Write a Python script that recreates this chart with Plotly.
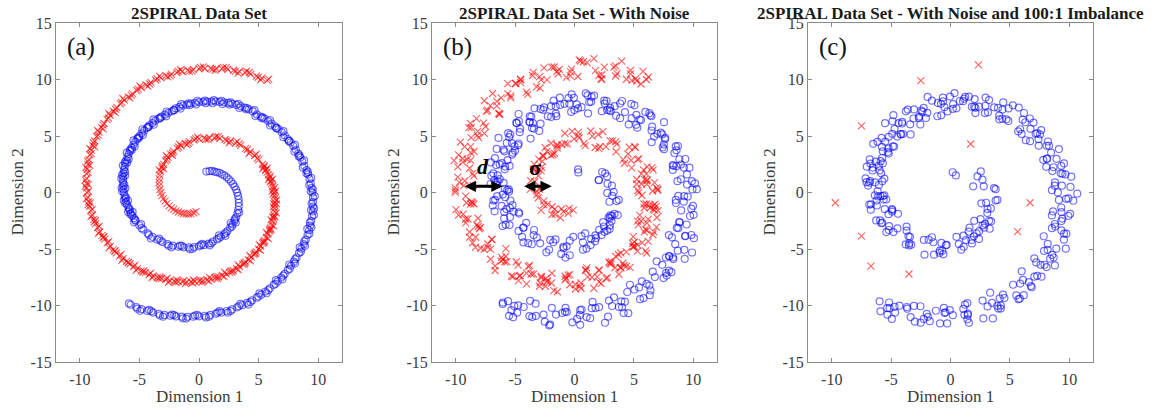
import plotly.graph_objects as go

W, H = 1165, 413
Y_OFF = 8          # rows above the drawn figure on the page
Y_SCALE = 0.961    # vertical page rows per figure pixel
SERIF = "Liberation Serif, Times New Roman, serif"

# ---------------- data (x, y) ----------------
# (a) clean two-spiral set
blue_a = [
    (0.62, 1.86), (0.88, 1.89), (1.09, 1.92), (1.30, 1.85), (1.50, 1.79), (1.72, 1.75), (1.93, 1.62), (2.13, 1.52), (2.33, 1.35), (2.51, 1.17),
    (2.69, 0.98), (2.85, 0.76), (2.98, 0.53), (3.11, 0.27), (3.20, 0.00), (3.28, -0.29), (3.33, -0.59), (3.34, -0.90), (3.34, -1.21), (3.29, -1.54),
    (3.22, -1.86), (3.12, -2.19), (2.98, -2.50), (2.81, -2.81), (2.61, -3.11), (2.38, -3.40), (2.12, -3.67), (1.83, -3.91), (1.51, -4.14), (1.16, -4.34),
    (0.80, -4.51), (0.41, -4.65), (0.00, -4.75), (-0.42, -4.82), (-0.86, -4.85), (-1.30, -4.84), (-1.74, -4.79), (-2.19, -4.69), (-2.64, -4.56), (-3.07, -4.38),
    (-3.50, -4.17), (-3.91, -3.91), (-4.30, -3.61), (-4.67, -3.27), (-5.01, -2.89),
    (-5.32, -2.48), (-5.46, -2.26), (-5.60, -2.04), (-5.72, -1.81), (-5.83, -1.56), (-5.93, -1.31), (-6.04, -1.06), (-6.11, -0.81), (-6.19, -0.54), (-6.24, -0.28),
    (-6.30, 0.00), (-6.33, 0.28), (-6.37, 0.56), (-6.37, 0.84), (-6.37, 1.12), (-6.35, 1.41), (-6.34, 1.70), (-6.30, 1.99), (-6.24, 2.27), (-6.17, 2.56),
    (-6.10, 2.85), (-6.00, 3.13), (-5.91, 3.41), (-5.78, 3.68), (-5.65, 3.96), (-5.50, 4.23), (-5.35, 4.49), (-5.18, 4.75), (-5.00, 5.00), (-4.81, 5.24),
    (-4.60, 5.48), (-4.38, 5.71), (-4.16, 5.94), (-3.91, 6.15), (-3.67, 6.35), (-3.40, 6.54), (-3.14, 6.72), (-2.86, 6.89), (-2.57, 7.05), (-2.27, 7.19),
    (-1.96, 7.45), (-1.65, 7.58), (-1.33, 7.70), (-1.01, 7.80), (-0.68, 7.88), (-0.34, 7.94), (0.00, 8.00), (0.35, 8.03), (0.69, 8.05), (1.04, 8.05),
    (1.40, 8.05), (1.74, 8.02), (2.10, 7.98), (2.45, 7.93), (2.80, 7.85), (3.15, 7.75), (3.50, 7.64), (3.84, 7.51), (4.18, 7.36), (4.51, 7.19),
    (4.85, 6.92), (5.17, 6.73), (5.49, 6.54), (5.80, 6.32), (6.09, 6.09), (6.38, 5.85), (6.67, 5.60), (6.94, 5.33), (7.20, 5.05), (7.44, 4.74),
    (7.69, 4.44), (7.91, 4.12), (8.13, 3.79), (8.33, 3.45), (8.51, 3.10), (8.67, 2.74), (8.83, 2.37), (9.03, 1.98), (9.16, 1.60), (9.27, 1.21),
    (9.37, 0.81), (9.45, 0.41), (9.52, 0.00), (9.56, -0.42), (9.57, -0.82), (9.56, -1.25), (9.55, -1.67), (9.49, -2.08), (9.42, -2.50), (9.33, -2.92),
    (9.24, -3.33), (9.11, -3.75), (8.96, -4.16), (8.79, -4.56), (8.60, -4.96), (8.39, -5.34), (8.19, -5.74), (7.96, -6.11), (7.72, -6.48), (7.46, -6.84),
    (7.19, -7.19), (6.90, -7.52), (6.60, -7.86), (6.27, -8.17), (5.94, -8.47), (5.57, -8.75), (5.22, -9.03), (4.84, -9.29), (4.44, -9.52), (4.04, -9.75),
    (3.63, -9.96), (3.20, -10.15), (2.77, -10.33), (2.32, -10.47), (1.87, -10.61), (1.42, -10.71), (0.95, -10.82), (0.48, -10.89), (0.00, -10.94), (-0.48, -10.97),
    (-0.96, -10.99), (-1.45, -10.97), (-1.93, -10.95), (-2.41, -10.89), (-2.90, -10.82), (-3.38, -10.72), (-3.86, -10.61), (-4.34, -10.47), (-4.81, -10.30), (-5.27, -10.12),
    (-5.73, -9.92),
    (3.37, -1.76), (3.00, -2.34), (3.08, -2.65), (2.66, -2.69), (2.76, -3.01), (2.26, -3.55), (2.22, -3.82), (1.68, -3.79), (1.66, -4.04), (1.04, -4.49),
    (0.90, -4.66), (0.26, -4.53), (0.15, -4.65), (-0.54, -4.97), (-0.76, -5.00), (-1.45, -4.72), (-1.59, -4.69), (-2.31, -4.84), (-2.54, -4.71), (-3.22, -4.26),
    (-3.35, -4.07), (-4.03, -4.06), (-4.20, -3.76), (-4.82, -3.15), (-4.86, -2.79),
    (-5.44, -2.63), (-5.36, -2.41), (-5.75, -1.92), (-5.57, -1.71), (-5.95, -1.71), (-5.83, -1.46), (-6.19, -0.94), (-5.96, -0.71), (-6.31, -0.69), (-6.14, -0.43),
    (-6.45, 0.12), (-6.18, 0.38), (-6.49, 0.41), (-6.27, 0.69), (-6.52, 1.24), (-6.20, 1.51), (-6.46, 1.55), (-6.20, 1.84), (-6.39, 2.39), (-6.02, 2.66),
    (-6.22, 2.70), (-5.90, 2.98), (-6.06, 3.53), (-5.63, 3.78), (-5.77, 3.81), (-5.40, 4.08), (-5.50, 4.61), (-5.03, 4.85), (-5.12, 4.85), (-4.71, 5.09),
    (-4.75, 5.60), (-4.23, 5.81), (-4.28, 5.79), (-3.81, 6.00), (-3.82, 6.47), (-3.25, 6.64), (-3.26, 6.57), (-2.76, 6.74), (-2.72, 7.17), (-2.12, 7.29),
    (-2.08, 7.30), (-1.55, 7.43), (-1.48, 7.82), (-0.86, 7.90), (-0.80, 7.73), (-0.24, 7.79), (-0.15, 8.12), (0.50, 8.13), (0.57, 7.90), (1.14, 7.90),
    (1.25, 8.17), (1.89, 8.12), (1.98, 7.83), (2.55, 7.78), (2.65, 7.97), (3.30, 7.85), (3.38, 7.49), (3.94, 7.36), (4.03, 7.48), (4.66, 7.29),
    (4.73, 6.77), (5.27, 6.58), (5.34, 6.66), (5.95, 6.42), (5.97, 5.94), (6.48, 5.70), (6.52, 5.72), (7.09, 5.43), (7.08, 4.90), (7.54, 4.59),
    (7.54, 4.56), (8.06, 4.22), (8.01, 3.64), (8.43, 3.30), (8.36, 3.22), (8.82, 2.84), (8.71, 2.22), (9.13, 1.83), (9.01, 1.72), (9.42, 1.31),
    (9.25, 0.66), (9.55, 0.26), (9.37, 0.12), (9.71, -0.32), (9.45, -0.97), (9.66, -1.40), (9.40, -1.55), (9.64, -1.98), (9.30, -2.65), (9.43, -3.07),
    (9.09, -3.21), (9.26, -3.65), (8.84, -4.31), (8.89, -4.71), (8.45, -4.84), (8.54, -5.24), (8.07, -5.89), (8.06, -6.26), (7.57, -6.36), (7.61, -6.74),
    (7.07, -7.34), (7.00, -7.67), (6.45, -7.74), (6.42, -8.07), (5.82, -8.62), (5.67, -8.90), (5.07, -8.91), (4.99, -9.19), (4.32, -9.67), (4.14, -9.90),
    (3.48, -9.84), (3.35, -10.05), (2.65, -10.48), (2.42, -10.62), (1.72, -10.49), (1.57, -10.61), (0.83, -10.97), (0.58, -11.04), (-0.15, -10.82), (-0.33, -10.87),
    (-1.08, -11.14), (-1.35, -11.12), (-2.08, -10.83), (-2.26, -10.79), (-3.02, -10.97), (-3.28, -10.87), (-4.01, -10.49), (-4.19, -10.37), (-4.93, -10.45), (-5.17, -10.27),
    (-5.88, -9.80),
]

red_a = [
    (-0.25, -1.68), (-0.45, -1.78),
    (-0.68, -1.88), (-0.88, -1.89), (-1.09, -1.88), (-1.30, -1.85), (-1.50, -1.79), (-1.72, -1.72), (-1.93, -1.62), (-2.13, -1.49), (-2.33, -1.35), (-2.51, -1.17),
    (-2.69, -0.98), (-2.85, -0.76), (-2.98, -0.53), (-3.11, -0.27), (-3.20, 0.00), (-3.28, 0.29), (-3.33, 0.59), (-3.34, 0.90), (-3.34, 1.21), (-3.29, 1.54),
    (-3.22, 1.86), (-3.12, 2.19), (-2.98, 2.50), (-2.81, 2.81), (-2.61, 3.11), (-2.38, 3.40), (-2.12, 3.67), (-1.83, 3.91), (-1.51, 4.14), (-1.16, 4.34),
    (-0.80, 4.51), (-0.41, 4.65), (0.00, 4.75), (0.42, 4.82), (0.86, 4.85), (1.30, 4.84), (1.74, 4.79), (2.19, 4.69), (2.64, 4.56), (3.07, 4.38),
    (3.50, 4.17), (3.91, 3.91), (4.30, 3.61), (4.67, 3.27), (5.01, 2.89),
    (5.32, 2.48), (5.46, 2.26), (5.60, 2.04), (5.72, 1.81), (5.83, 1.56), (5.93, 1.31), (6.04, 1.06), (6.11, 0.81), (6.19, 0.54), (6.24, 0.28),
    (6.30, 0.00), (6.33, -0.28), (6.37, -0.56), (6.37, -0.84), (6.37, -1.12), (6.35, -1.41), (6.34, -1.70), (6.30, -1.99), (6.24, -2.27), (6.17, -2.56),
    (6.10, -2.85), (6.00, -3.13), (5.91, -3.41), (5.78, -3.68), (5.65, -3.96), (5.50, -4.23), (5.35, -4.49), (5.18, -4.75), (5.00, -5.00), (4.81, -5.24),
    (4.60, -5.48), (4.38, -5.71), (4.16, -5.94), (3.91, -6.15), (3.67, -6.35), (3.40, -6.54), (3.14, -6.72), (2.86, -6.89), (2.57, -7.05), (2.27, -7.19),
    (1.96, -7.33), (1.65, -7.45), (1.33, -7.56), (1.01, -7.65), (0.68, -7.73), (0.34, -7.79), (0.00, -7.85), (-0.35, -7.88), (-0.69, -7.90), (-1.04, -7.90),
    (-1.40, -7.90), (-1.74, -7.87), (-2.10, -7.83), (-2.45, -7.78), (-2.80, -7.70), (-3.15, -7.60), (-3.50, -7.50), (-3.84, -7.38), (-4.18, -7.24), (-4.51, -7.08),
    (-4.85, -6.92), (-5.17, -6.73), (-5.49, -6.54), (-5.80, -6.32), (-6.09, -6.09), (-6.38, -5.85), (-6.67, -5.60), (-6.94, -5.33), (-7.20, -5.05), (-7.44, -4.74),
    (-7.69, -4.44), (-7.91, -4.12), (-8.13, -3.79), (-8.33, -3.45), (-8.51, -3.10), (-8.67, -2.74), (-8.83, -2.37), (-8.96, -1.98), (-9.08, -1.60), (-9.18, -1.21),
    (-9.27, -0.81), (-9.34, -0.41), (-9.40, 0.00), (-9.43, 0.42), (-9.44, 0.82), (-9.43, 1.25), (-9.43, 1.67), (-9.38, 2.08), (-9.32, 2.50), (-9.24, 2.92),
    (-9.16, 3.33), (-9.04, 3.75), (-8.91, 4.16), (-8.75, 4.56), (-8.58, 4.96), (-8.39, 5.34), (-8.19, 5.74), (-7.96, 6.11), (-7.72, 6.48), (-7.46, 6.84),
    (-7.19, 7.19), (-6.90, 7.52), (-6.60, 7.86), (-6.27, 8.17), (-5.94, 8.47), (-5.57, 8.75), (-5.22, 9.03), (-4.84, 9.29), (-4.44, 9.52), (-4.04, 9.75),
    (-3.63, 9.96), (-3.20, 10.15), (-2.77, 10.33), (-2.32, 10.47), (-1.87, 10.61), (-1.42, 10.71), (-0.95, 10.82), (-0.48, 10.89), (0.00, 10.94), (0.48, 10.97),
    (0.96, 10.99), (1.45, 10.97), (1.93, 10.95), (2.41, 10.89), (2.90, 10.82), (3.38, 10.72), (3.86, 10.61), (4.34, 10.47), (4.81, 10.30), (5.27, 10.12),
    (5.73, 9.92),
    (-3.34, 2.01), (-2.97, 2.09), (-3.08, 2.35), (-2.69, 2.93), (-2.73, 3.26), (-2.23, 3.30), (-2.22, 3.52), (-1.71, 4.03), (-1.63, 4.29), (-1.01, 4.24),
    (-0.90, 4.36), (-0.29, 4.77), (-0.12, 4.90), (0.57, 4.72), (0.76, 4.70), (1.42, 4.96), (1.62, 4.94), (2.34, 4.59), (2.54, 4.41), (3.19, 4.50),
    (3.38, 4.32), (4.06, 3.81), (4.20, 3.46), (4.79, 3.39), (4.89, 3.04),
    (5.47, 2.38), (5.36, 2.11), (5.72, 2.16), (5.60, 1.96), (5.98, 1.46), (5.83, 1.16), (6.16, 1.18), (5.99, 0.96), (6.34, 0.44), (6.14, 0.13),
    (6.42, 0.12), (6.21, -0.13), (6.52, -0.66), (6.27, -0.99), (6.49, -1.00), (6.23, -1.26), (6.49, -1.80), (6.20, -2.14), (6.36, -2.15), (6.05, -2.41),
    (6.25, -2.95), (5.90, -3.28), (6.03, -3.29), (5.66, -3.53), (5.80, -4.06), (5.40, -4.38), (5.47, -4.37), (5.06, -4.60), (5.15, -5.10), (4.71, -5.39),
    (4.72, -5.36), (4.26, -5.56), (4.31, -6.04), (3.81, -6.30), (3.79, -6.23), (3.28, -6.39), (3.29, -6.82), (2.76, -7.04), (2.69, -6.93), (2.15, -7.04),
    (2.11, -7.43), (1.55, -7.60), (1.45, -7.44), (0.89, -7.50), (0.83, -7.83), (0.24, -7.94), (0.12, -7.73), (-0.47, -7.73), (-0.54, -8.00), (-1.14, -8.05),
    (-1.28, -7.78), (-1.86, -7.72), (-1.95, -7.93), (-2.55, -7.93), (-2.68, -7.58), (-3.27, -7.45), (-3.35, -7.60), (-3.94, -7.53), (-4.06, -7.12), (-4.63, -6.93),
    (-4.70, -7.02), (-5.27, -6.88), (-5.37, -6.42), (-5.92, -6.17), (-5.94, -6.19), (-6.48, -6.00), (-6.55, -5.48), (-7.06, -5.18), (-7.05, -5.15), (-7.54, -4.89),
    (-7.57, -4.32), (-8.03, -3.97), (-7.98, -3.89), (-8.43, -3.60), (-8.39, -2.98), (-8.79, -2.59), (-8.68, -2.47), (-9.06, -2.13), (-8.96, -1.48), (-9.30, -1.06),
    (-9.12, -0.91), (-9.44, -0.56), (-9.28, 0.12), (-9.55, 0.57), (-9.29, 0.72), (-9.53, 1.10), (-9.31, 1.79), (-9.50, 2.23), (-9.17, 2.40), (-9.34, 2.77),
    (-9.04, 3.45), (-9.16, 3.90), (-8.76, 4.06), (-8.85, 4.41), (-8.46, 5.08), (-8.51, 5.49), (-8.04, 5.64), (-8.06, 5.96), (-7.60, 6.60), (-7.58, 6.99),
    (-7.04, 7.09), (-7.00, 7.37), (-6.48, 7.98), (-6.39, 8.32), (-5.79, 8.37), (-5.67, 8.60), (-5.10, 9.15), (-4.96, 9.44), (-4.29, 9.42), (-4.14, 9.60),
    (-3.51, 10.08), (-3.32, 10.30), (-2.62, 10.23), (-2.42, 10.32), (-1.75, 10.73), (-1.54, 10.86), (-0.80, 10.72), (-0.58, 10.74), (0.12, 11.06), (0.36, 11.12),
    (1.11, 10.89), (1.35, 10.82), (2.05, 11.07), (2.29, 11.04), (3.05, 10.72), (3.28, 10.57), (3.98, 10.73), (4.22, 10.62), (4.96, 10.20), (5.17, 9.97),
    (5.85, 10.04),
]

# (b) two-spiral set with noise
blue_b = [
    (0.30, 2.05), (0.32, 1.78),
    (2.33, 1.82), (2.03, 1.09), (2.58, 1.70), (2.06, 1.12), (2.74, 1.43), (3.15, 0.61), (2.78, 0.78), (2.76, -0.03), (3.30, 0.05), (3.73, -0.64),
    (3.18, -0.29), (3.54, -0.75), (2.94, -0.81), (3.64, -1.99), (3.17, -2.06), (2.87, -2.19), (2.98, -2.25), (3.11, -2.51), (2.76, -3.36), (2.08, -3.30),
    (2.52, -3.47), (1.73, -4.31), (1.76, -3.79), (0.71, -4.39),
    (0.90, -3.61), (1.01, -4.95), (-0.40, -4.25), (-1.12, -5.42), (-0.66, -4.75), (-0.40, -5.54), (-2.04, -4.19), (-1.79, -4.39), (-3.44, -3.76), (-2.37, -5.28),
    (-3.60, -4.57), (-4.41, -3.91), (-4.30, -3.11), (-4.07, -2.67), (-4.71, -3.39),
    (-5.92, -2.28), (-4.66, -1.86), (-5.80, -2.84), (-5.22, -1.11), (-6.73, -1.66), (-5.83, -0.41), (-5.44, -1.36), (-6.51, -0.31), (-6.89, -1.14), (-6.04, -0.18),
    (-5.40, -0.70), (-6.63, 0.88), (-5.97, 0.86), (-7.00, 1.50), (-5.67, 0.22), (-6.45, 1.01), (-6.84, 1.70), (-6.30, 2.49), (-5.64, 2.87), (-5.87, 2.06),
    (-6.70, 3.05), (-5.20, 3.53), (-6.11, 2.61), (-5.28, 4.38), (-6.55, 3.86), (-5.40, 5.13), (-4.75, 4.19), (-5.58, 5.25), (-5.70, 4.40), (-4.61, 5.34),
    (-3.70, 4.78), (-4.68, 6.31), (-3.76, 6.24), (-4.71, 6.95), (-2.97, 5.45), (-3.50, 6.14), (-3.64, 6.72), (-2.86, 7.39), (-1.97, 7.65), (-1.97, 6.69),
    (-2.56, 7.53), (-0.85, 7.85), (-1.53, 6.76), (-0.51, 8.35), (-1.58, 7.63), (-0.24, 8.69), (0.60, 7.55), (-0.05, 8.38), (-0.01, 7.30), (1.24, 8.00),
    (2.30, 7.20), (1.44, 8.47), (2.50, 8.13), (1.65, 8.58), (3.50, 6.80), (3.05, 7.20), (3.00, 7.50), (3.84, 7.88), (4.78, 7.84), (4.81, 6.58),
    (4.25, 7.12), (5.97, 7.13), (5.29, 5.74), (6.30, 7.02), (5.19, 5.99), (6.48, 6.75), (7.27, 5.30), (6.54, 5.83), (6.50, 4.45), (7.64, 4.84),
    (8.59, 3.74), (7.61, 4.72), (8.53, 4.09), (7.53, 4.25), (9.21, 2.20), (8.57, 2.34), (8.33, 2.37), (8.96, 2.48), (9.68, 2.20), (9.48, 0.71),
    (8.67, 1.01), (10.14, 0.81), (9.20, -0.80), (9.93, 0.28), (8.54, -0.92), (9.53, -0.35), (10.03, -1.97), (8.98, -1.58), (8.62, -3.10), (9.44, -2.82),
    (10.06, -4.03), (8.74, -3.15), (9.31, -3.86), (7.95, -3.76), (9.28, -5.86), (8.29, -5.74), (7.69, -5.74), (7.96, -5.61), (8.32, -5.88), (7.76, -7.34),
    (6.59, -6.99), (7.70, -7.12), (6.40, -8.66), (6.77, -7.47), (5.04, -8.57), (5.67, -7.85), (5.82, -9.33), (4.44, -8.79), (3.74, -10.12), (4.24, -9.65),
    (4.53, -10.66), (2.90, -9.55), (3.17, -10.03), (1.52, -9.67), (2.57, -11.51), (1.32, -11.11), (0.45, -10.82), (0.48, -10.39), (0.60, -10.34), (-0.18, -11.47),
    (-1.56, -10.79), (-0.65, -10.57), (-2.13, -11.75), (-1.91, -10.19), (-3.80, -10.92), (-3.28, -9.82), (-3.26, -10.91), (-4.74, -9.97), (-5.51, -10.90), (-5.07, -10.02),
    (-4.83, -10.62), (-6.05, -9.85), (-5.60, -9.60), (9.90, -5.30),
    (3.02, -2.01), (3.37, -1.89), (2.98, -2.90), (2.41, -2.61), (2.96, -3.21), (2.48, -3.00), (1.82, -4.02), (2.28, -3.76), (1.41, -4.09), (1.36, -4.64),
    (-0.10, -3.91), (0.71, -5.05), (0.60, -3.85), (-0.92, -4.92), (-0.76, -5.75), (-1.60, -4.14), (-0.94, -4.79), (-2.89, -4.49), (-2.14, -5.06), (-3.17, -3.98),
    (-3.90, -4.47), (-3.41, -3.31), (-4.30, -4.41), (-5.47, -2.87), (-4.31, -3.09),
    (-5.12, -1.68), (-6.06, -2.96), (-4.70, -1.74), (-5.92, -1.71), (-5.43, -2.16), (-6.83, -0.71), (-5.74, -1.46), (-5.51, 0.09), (-6.69, -0.64), (-6.14, -1.18),
    (-6.60, 0.70), (-5.53, 0.28), (-7.07, 0.76), (-5.87, 0.34), (-6.47, 1.52), (-6.75, 1.11), (-5.84, 2.30), (-6.30, 1.19), (-7.04, 2.67), (-5.47, 2.36),
    (-5.90, 3.65), (-6.60, 2.43), (-5.01, 3.71), (-5.98, 3.78), (-5.25, 3.36), (-6.40, 4.83), (-5.05, 4.09), (-4.58, 5.65), (-5.50, 4.90), (-4.71, 4.34),
    (-4.90, 6.18), (-3.58, 5.71), (-4.86, 6.14), (-3.41, 5.65), (-3.77, 6.75), (-3.80, 6.24), (-2.64, 7.32), (-2.86, 6.09), (-3.37, 7.45), (-1.57, 6.99),
    (-1.76, 8.13), (-2.25, 6.75), (-0.43, 7.86), (-1.21, 7.75), (-0.28, 7.13), (-1.24, 8.39), (0.30, 7.45), (0.95, 8.78), (0.19, 7.80), (1.14, 7.00),
    (1.10, 8.60), (2.54, 7.87), (1.40, 8.03), (2.95, 7.28), (2.70, 8.10), (2.75, 7.30), (4.00, 8.10), (3.84, 6.58), (3.38, 7.64), (5.21, 6.88),
    (5.05, 7.72), (4.57, 6.03), (6.39, 6.84), (5.60, 6.42), (6.49, 5.49), (5.48, 6.45), (6.97, 5.20), (7.54, 6.23), (6.70, 4.95), (7.54, 3.84),
    (7.39, 5.14), (8.71, 4.12), (7.43, 3.99), (8.83, 2.95), (8.41, 3.50), (8.27, 2.44), (9.33, 2.97), (8.96, 1.18), (8.28, 2.00), (9.88, 1.01),
    (9.47, 1.61), (8.74, -0.29), (10.30, 0.30), (9.23, -0.32), (9.84, -1.42), (8.53, -0.65), (9.73, -2.07), (9.98, -1.18), (8.82, -2.60), (9.34, -3.82),
    (8.86, -2.63), (9.84, -3.75), (8.21, -3.96), (9.25, -5.06), (8.48, -4.56), (7.99, -5.64), (8.69, -5.14), (7.96, -6.91), (6.92, -6.08), (8.16, -7.04),
    (7.39, -6.39), (6.30, -8.22), (7.50, -7.56), (6.07, -8.07), (6.34, -9.07), (4.67, -8.15), (5.52, -9.43), (5.44, -8.39), (3.94, -9.62), (4.14, -10.65),
    (3.33, -9.26), (4.00, -10.15), (2.07, -10.13), (2.82, -10.97), (1.77, -10.21), (1.02, -11.01), (1.45, -10.22), (0.48, -11.69), (-0.80, -10.54), (0.22, -11.17),
    (-0.76, -10.19), (-2.05, -11.67), (-1.03, -10.65), (-2.61, -10.79), (-2.50, -11.42), (-4.28, -10.12), (-3.56, -11.01), (-3.74, -9.57), (-5.31, -10.40), (-5.17, -11.02),
    (-6.03, -9.72),
]

red_b = [
    (-0.10, -1.55), (-0.45, -1.40),
    (-0.93, -1.68), (-0.53, -1.84), (-1.19, -2.23), (-1.10, -1.45), (-1.90, -1.94), (-1.67, -1.47), (-1.63, -1.92), (-2.28, -1.04), (-1.88, -1.25), (-2.81, -1.57),
    (-2.59, -1.08), (-3.05, -0.46), (-2.58, -0.73), (-3.16, -0.17), (-2.95, 0.30), (-3.73, 0.29), (-3.18, 0.14), (-3.69, 1.05), (-3.34, 0.96), (-3.04, 1.49),
    (-3.47, 2.06), (-2.77, 2.24), (-3.08, 2.15), (-2.61, 3.21), (-3.01, 2.96), (-2.33, 3.65), (-1.82, 3.37), (-1.98, 4.36), (-1.06, 4.24), (-1.46, 3.94),
    (-0.60, 4.31), (-0.81, 5.25), (0.80, 4.35), (0.32, 5.02), (1.36, 5.45), (0.40, 4.84), (2.04, 3.89), (1.49, 4.99), (2.64, 4.06), (3.57, 4.28),
    (3.00, 4.57), (4.61, 4.01), (4.10, 2.91), (5.07, 4.07), (4.21, 2.59),
    (5.42, 2.98), (6.06, 1.66), (5.30, 2.94), (6.62, 2.01), (5.23, 0.76), (6.13, 1.11), (5.64, 1.66), (6.91, 0.41), (6.09, 0.74), (6.74, 0.88),
    (5.40, 0.00), (6.63, -1.18), (5.67, -0.26), (6.37, -1.34), (6.87, -1.22), (5.85, -1.01), (7.04, -1.60), (6.10, -2.69), (6.64, -1.47), (5.37, -2.86),
    (6.20, -2.35), (6.60, -3.73), (5.61, -2.51), (6.68, -3.48), (5.05, -4.76), (5.70, -4.43), (4.95, -3.89), (5.98, -5.15), (4.90, -4.80), (5.31, -4.64),
    (3.70, -5.48), (4.68, -6.61), (3.46, -5.64), (3.91, -6.65), (4.17, -6.45), (2.90, -6.14), (3.84, -6.62), (2.66, -7.59), (2.97, -6.25), (1.47, -7.49),
    (2.06, -6.83), (2.25, -8.05), (1.03, -6.66), (1.91, -7.45), (0.08, -8.53), (0.54, -7.99), (-0.40, -7.25), (0.45, -8.28), (-0.79, -7.70), (-0.54, -7.30),
    (-2.30, -7.90), (-1.44, -8.77), (-2.80, -7.53), (-2.45, -8.28), (-2.30, -7.80), (-3.65, -7.20), (-2.80, -7.40), (-4.04, -8.08), (-3.78, -6.44), (-5.31, -7.38),
    (-4.75, -6.42), (-4.57, -7.33), (-5.79, -5.64), (-4.90, -6.12), (-6.69, -6.89), (-6.18, -6.05), (-7.07, -5.00), (-6.14, -5.73), (-7.30, -4.85), (-6.94, -4.14),
    (-8.59, -4.44), (-7.61, -5.02), (-8.83, -3.49), (-8.33, -3.95), (-8.01, -3.20), (-9.17, -2.34), (-8.13, -2.27), (-9.16, -2.68), (-8.68, -0.80), (-9.98, -1.51),
    (-9.17, -0.31), (-8.74, -1.01), (-9.70, 0.90), (-8.53, 0.62), (-10.04, 0.02), (-9.23, 1.05), (-9.83, 2.27), (-8.58, 1.68), (-9.42, 2.70), (-8.74, 3.52),
    (-9.76, 3.33), (-8.74, 2.85), (-9.61, 4.46), (-8.75, 4.06), (-8.08, 4.86), (-8.89, 5.74), (-7.49, 5.84), (-8.16, 5.41), (-7.32, 7.28), (-8.26, 6.54),
    (-7.09, 7.69), (-6.30, 6.92), (-6.90, 8.76), (-5.37, 8.37), (-6.54, 7.67), (-5.37, 8.55), (-5.62, 9.63), (-4.04, 8.89), (-4.54, 9.72), (-3.54, 10.35),
    (-4.53, 9.96), (-2.90, 9.25), (-3.47, 10.63), (-2.32, 9.97), (-1.37, 10.51), (-1.92, 11.11), (-0.25, 10.92), (-0.68, 10.19), (0.40, 11.74), (-0.32, 10.67),
    (1.06, 11.49), (2.05, 10.37), (1.63, 11.85), (3.31, 11.09), (2.30, 10.02), (3.58, 10.52), (3.46, 11.21), (5.14, 10.07), (4.71, 10.50), (5.77, 10.72),
    (4.83, 9.92), (6.05, 10.00), (5.60, 9.60),
    (-3.37, 2.06), (-2.82, 1.94), (-3.38, 2.50), (-2.66, 3.26), (-2.71, 2.76), (-1.98, 3.30), (-2.47, 3.97), (-1.68, 3.46), (-1.46, 4.24), (-1.46, 4.14),
    (-0.20, 5.41), (-0.81, 4.35), (0.90, 4.15), (0.32, 5.32), (-0.04, 4.75), (2.00, 5.14), (1.74, 3.99), (2.39, 5.39), (2.14, 4.06), (3.47, 4.48),
    (3.20, 4.57), (4.51, 3.41), (3.50, 3.61), (5.12, 3.97), (4.81, 2.19),
    (6.12, 2.28), (4.76, 2.86), (5.90, 1.14), (5.82, 2.01), (5.23, 1.16), (6.53, 2.21), (5.64, 0.76), (7.01, 0.21), (6.09, 1.04), (5.34, 0.18),
    (7.00, 0.30), (6.33, -1.08), (6.57, 0.14), (5.87, -1.34), (6.77, -1.02), (6.05, -1.01), (6.94, -2.20), (5.50, -1.99), (6.74, -1.57), (5.97, -3.26),
    (6.90, -3.05), (5.30, -2.53), (6.21, -4.31), (5.88, -3.48), (5.05, -4.36), (6.10, -3.33), (4.95, -4.79), (6.08, -5.35), (4.90, -4.50), (3.91, -5.34),
    (5.30, -5.18), (4.38, -6.51), (4.36, -5.24), (3.41, -6.65), (4.07, -6.25), (3.10, -6.14), (3.74, -7.22), (2.06, -6.89), (3.07, -6.35), (2.07, -7.89),
    (2.76, -7.53), (0.95, -6.85), (1.63, -8.46), (1.11, -7.45), (0.08, -8.13), (0.94, -6.89), (-0.40, -8.15), (0.55, -8.48), (-0.79, -7.40), (-1.94, -8.00),
    (-0.70, -7.60), (-1.74, -8.67), (-1.90, -7.13), (-2.95, -8.28), (-2.40, -7.60), (-3.45, -7.20), (-2.90, -8.00), (-4.64, -7.38), (-3.88, -6.54), (-4.71, -7.78),
    (-4.05, -7.12), (-5.87, -6.13), (-5.19, -7.44), (-5.70, -6.12), (-6.69, -6.49), (-5.78, -4.95), (-7.07, -5.90), (-6.04, -5.93), (-7.30, -4.55), (-8.34, -4.84),
    (-6.99, -4.14), (-7.91, -4.92), (-7.93, -3.09), (-8.83, -3.95), (-8.11, -3.00), (-8.97, -2.34), (-8.23, -2.87), (-9.76, -1.98), (-8.58, -0.90), (-9.38, -1.91),
    (-8.47, -1.01), (-10.04, 0.19), (-9.10, -0.90), (-9.33, 0.62), (-10.04, 0.42), (-8.83, 2.15), (-9.83, 1.37), (-8.48, 1.48), (-9.42, 3.00), (-10.14, 2.82),
    (-8.46, 3.63), (-9.04, 2.95), (-8.71, 4.86), (-9.25, 4.06), (-8.18, 5.06), (-8.69, 5.74), (-7.59, 5.24), (-8.76, 6.11), (-7.42, 7.18), (-7.66, 6.14),
    (-6.39, 6.99), (-7.60, 8.12), (-6.30, 6.96), (-6.17, 8.37), (-6.54, 8.07), (-4.97, 9.65), (-5.62, 8.73), (-3.94, 8.69), (-4.54, 10.02), (-4.94, 9.65),
    (-2.93, 10.26), (-3.20, 9.35), (-2.57, 11.03), (-2.82, 9.97), (-1.47, 10.71), (-1.72, 11.11), (-0.35, 10.32), (-1.28, 10.89), (0.50, 11.64), (0.28, 10.27),
    (1.76, 10.79), (0.75, 11.57), (2.23, 10.05), (2.51, 11.09), (2.30, 10.42), (3.98, 11.62), (3.46, 10.31), (5.24, 9.87), (4.71, 10.80), (4.37, 10.02),
    (6.23, 10.22),
]

# (c) noisy set with 100:1 class imbalance
blue_c = [
    (0.18, 1.80), (0.45, 1.52),
    (2.27, 1.43), (2.55, 1.87), (2.69, 1.14), (1.91, 0.55), (2.80, 0.55), (3.67, 0.40), (3.80, 0.30), (3.80, -0.70), (3.95, -0.65), (3.00, -0.90),
    (2.60, -0.95), (3.40, -1.40), (3.10, -1.80), (3.25, -2.50), (2.70, -2.90), (2.00, -2.50), (1.60, -3.10), (3.30, -3.20), (2.20, -3.60), (2.40, -4.10),
    (1.30, -4.20), (1.80, -4.50),
    (0.50, -3.91), (0.91, -5.05), (-0.60, -5.45), (-0.32, -4.62), (-1.56, -3.95), (-0.70, -5.14), (-1.44, -4.39), (-1.39, -5.49), (-3.54, -3.86), (-3.47, -4.48),
    (-3.50, -4.67), (-3.41, -3.91), (-3.70, -3.01), (-5.17, -2.97), (-4.81, -3.49),
    (-4.92, -1.68), (-6.26, -2.46), (-4.90, -1.54), (-5.82, -2.71), (-4.93, -1.46), (-6.23, -0.71), (-5.54, -1.46), (-6.71, -1.51), (-6.09, -0.34), (-6.94, 0.62),
    (-5.70, -0.30), (-6.03, 0.68), (-5.57, -0.24), (-7.15, 1.25), (-6.77, 1.02), (-6.35, 0.91), (-5.84, 1.70), (-5.70, 2.59), (-6.74, 2.57), (-5.97, 1.96),
    (-5.70, 3.65), (-6.80, 2.93), (-5.21, 3.91), (-5.88, 2.78), (-4.75, 4.06), (-5.80, 4.83), (-4.85, 4.09), (-5.78, 4.05), (-4.90, 5.20), (-5.51, 6.14),
    (-4.00, 5.18), (-4.08, 6.11), (-3.36, 5.14), (-4.81, 6.85), (-4.07, 6.25), (-3.40, 6.04), (-2.64, 6.72), (-2.26, 7.49), (-3.07, 7.35), (-2.07, 6.59),
    (-1.56, 8.13), (-2.45, 7.25), (-0.63, 8.06), (-1.11, 6.75), (0.22, 7.83), (-0.64, 8.39), (0.50, 7.45), (-0.25, 7.18), (0.79, 8.10), (0.34, 8.80),
    (2.00, 7.60), (2.04, 8.27), (2.90, 7.03), (1.55, 8.48), (2.40, 7.60), (3.15, 7.10), (4.00, 7.50), (4.44, 7.98), (3.68, 7.54), (4.71, 6.48),
    (5.25, 7.72), (4.37, 6.53), (6.19, 7.04), (5.70, 5.42), (6.99, 6.19), (6.08, 6.45), (7.17, 5.20), (6.34, 4.63), (7.30, 5.25), (6.74, 5.64),
    (8.29, 4.14), (8.21, 4.52), (8.93, 2.99), (7.43, 4.15), (8.11, 3.00), (8.67, 2.24), (9.33, 2.37), (9.56, 2.58), (8.58, 1.90), (9.38, 0.61),
    (9.67, 1.61), (8.54, 0.21), (10.10, 0.50), (9.33, -1.32), (10.34, -0.72), (9.13, -0.65), (9.93, -2.07), (8.78, -2.78), (9.42, -2.30), (8.54, -2.02),
    (9.76, -3.63), (9.34, -3.35), (9.71, -4.96), (7.85, -3.86), (8.18, -5.06), (8.39, -5.84), (8.69, -5.74), (8.56, -5.51), (7.22, -6.18), (7.66, -7.44),
    (7.59, -6.39), (6.10, -7.72), (7.30, -7.36), (6.17, -9.07), (6.84, -8.37), (5.27, -8.15), (5.72, -9.43), (4.24, -9.99), (4.54, -9.32), (3.34, -8.85),
    (4.23, -10.26), (3.50, -9.75), (3.57, -11.13), (1.42, -9.77), (1.47, -10.71), (1.42, -11.21), (1.45, -10.82), (1.08, -10.29), (-0.50, -10.64), (-0.28, -11.57),
    (-0.56, -10.19), (-2.25, -11.17), (-1.23, -10.45), (-2.51, -11.50), (-2.00, -10.72), (-3.68, -10.12), (-3.36, -11.01), (-4.94, -11.17), (-4.71, -10.10), (-5.97, -9.62),
    (-5.13, -10.22), (-5.90, -10.50), (-4.30, -10.00), (10.67, -0.10),
    (3.12, -1.46), (3.42, -2.54), (2.53, -2.35), (2.91, -2.76), (2.41, -3.41), (2.83, -3.10), (1.97, -3.87), (1.53, -3.46), (1.76, -4.19), (1.11, -4.79),
    (1.10, -3.81), (-0.39, -4.65), (0.70, -4.55), (-0.92, -5.32), (-0.76, -4.45), (-0.90, -5.14), (-2.24, -4.19), (-2.19, -5.49), (-1.84, -4.16), (-3.77, -4.58),
    (-3.70, -3.37), (-3.31, -4.61), (-5.20, -3.31), (-4.47, -3.17), (-5.41, -3.49),
    (-4.42, -1.88), (-5.76, -2.66), (-6.20, -1.14), (-5.22, -1.91), (-5.93, -2.46), (-5.63, -0.61), (-6.84, -1.06), (-5.41, -0.61), (-6.69, -1.04), (-6.14, 0.12),
    (-5.90, -0.30), (-6.83, 0.88), (-6.37, -0.24), (-5.57, 1.24), (-7.07, 0.92), (-6.55, 2.21), (-5.74, 1.00), (-7.05, 2.29), (-6.04, 2.37), (-6.57, 1.96),
    (-5.20, 3.45), (-6.30, 2.73), (-6.51, 4.31), (-5.28, 3.58), (-5.75, 3.06), (-5.20, 4.93), (-6.15, 4.49), (-4.48, 4.95), (-5.50, 4.50), (-4.71, 5.64),
    (-4.20, 5.18), (-4.88, 6.31), (-4.16, 5.14), (-3.11, 6.55), (-4.37, 6.15), (-3.60, 7.34), (-2.54, 6.02), (-3.76, 7.19), (-2.37, 7.15), (-2.67, 6.59),
    (-1.06, 7.93), (-1.95, 7.05), (-1.93, 8.46), (-0.51, 7.55), (-0.78, 6.83), (-0.04, 8.49), (-0.80, 7.85), (1.05, 8.08), (0.19, 7.40), (1.14, 8.30),
    (1.80, 7.60), (1.24, 8.47), (2.10, 7.03), (3.25, 8.18), (2.10, 7.50), (2.95, 8.40), (4.10, 6.80), (2.94, 7.68), (4.38, 7.34), (4.11, 6.48),
    (5.75, 7.52), (4.87, 6.33), (4.89, 7.44), (6.30, 6.22), (5.99, 5.19), (6.68, 6.55), (5.87, 5.60), (7.64, 5.53), (6.70, 4.55), (7.54, 5.14),
    (8.09, 4.14), (7.41, 4.72), (8.13, 2.99), (9.13, 3.85), (7.81, 2.90), (8.47, 3.54), (9.43, 1.67), (8.06, 2.28), (9.28, 1.70), (8.78, 0.61),
    (10.17, 1.41), (9.04, 0.01), (8.80, 0.90), (9.93, -0.52), (9.34, -1.72), (9.73, -0.55), (8.63, -1.67), (10.08, -1.88), (8.82, -3.00), (9.34, -2.52),
    (9.56, -3.63), (8.54, -3.15), (8.91, -4.96), (9.55, -4.16), (7.88, -5.16), (8.19, -4.54), (8.79, -6.44), (7.06, -5.81), (7.92, -6.38), (7.06, -7.44),
    (8.09, -6.59), (6.60, -7.92), (6.00, -6.96), (6.77, -8.27), (5.84, -9.37), (5.87, -8.05), (4.42, -9.03), (5.54, -9.09), (3.94, -10.02), (4.14, -9.35),
    (4.03, -10.26), (2.70, -9.55), (2.77, -11.13), (3.12, -10.07), (1.17, -10.81), (1.22, -9.91), (1.55, -11.52), (-0.42, -10.59), (0.20, -10.84), (-0.88, -11.57),
    (-0.06, -10.39), (-1.75, -11.37), (-2.53, -10.05), (-1.91, -10.99), (-3.00, -11.42), (-3.08, -10.02), (-4.66, -10.61), (-3.64, -10.27), (-5.31, -10.80), (-5.17, -9.72),
    (-5.33, -10.22),
]

red_c = [
    (2.35, 11.30), (-2.50, 9.90), (-7.50, 5.90), (1.70, 4.30), (-9.70, -0.90),
    (6.70, -0.90), (5.65, -3.45), (-7.50, -3.85), (-6.70, -6.50), (-3.50, -7.20),
]

# ---------------- axes & labels ----------------
x_ticks = [-10, -5, 0, 5, 10]
x_tick_text = ["-10", "-5", "0", "5", "10"]
y_ticks = [-15, -10, -5, 0, 5, 10, 15]
y_tick_text = ["-15", "-10", "-5", "0", "5", "10", "15"]

titles = [
    "2SPIRAL Data Set",
    "2SPIRAL Data Set - With Noise",
    "2SPIRAL Data Set - With Noise and 100:1 Imbalance",
]
tags = ["(a)", "(b)", "(c)"]
x_title = "Dimension 1"
y_title = "Dimension 2"

panels = [(blue_a, red_a), (blue_b, red_b), (blue_c, red_c)]

# plot boxes in page pixels
boxes = [(56, 342), (432, 717), (808, 1093)]
TOP, BOTTOM = 23, 363


def fx(px):
    return px / W


def fy(py):
    # page pixel row -> paper fraction
    return 1 - (py - Y_OFF) / Y_SCALE / H


BLUE = "rgba(0,0,255,0.55)"
RED = "rgba(255,0,0,0.6)"
AXIS_GREY = "#8a8a8a"
TICK_TEXT = "#3c3c3c"

fig = go.Figure()
annotations = []
layout = {}

for i, ((blue, red), (left, right)) in enumerate(zip(panels, boxes)):
    n = "" if i == 0 else str(i + 1)
    xa, ya = "x" + n, "y" + n
    bx, by = zip(*blue)
    rx, ry = zip(*red)
    fig.add_trace(go.Scatter(
        x=rx, y=ry, mode="markers", xaxis=xa, yaxis=ya, hoverinfo="skip",
        marker=dict(symbol="x-thin-open", size=7, color=RED, line=dict(width=1.2, color=RED)),
    ))
    fig.add_trace(go.Scatter(
        x=bx, y=by, mode="markers", xaxis=xa, yaxis=ya, hoverinfo="skip",
        marker=dict(symbol="circle-open", size=7, color=BLUE, line=dict(width=1.2, color=BLUE)),
    ))

    common = dict(
        ticks="inside", ticklen=4, tickwidth=1, tickcolor=AXIS_GREY,
        showline=True, linecolor=AXIS_GREY, linewidth=1, mirror="ticks",
        showgrid=False, zeroline=False, fixedrange=True,
        tickfont=dict(family=SERIF, size=16, color=TICK_TEXT),
    )
    layout["xaxis" + n] = dict(
        common, domain=[fx(left), fx(right)], range=[-12, 12],
        tickmode="array", tickvals=x_ticks, ticktext=x_tick_text,
        anchor=ya, ticklabelstandoff=3,
    )
    layout["yaxis" + n] = dict(
        common, domain=[fy(BOTTOM), fy(TOP)], range=[-15, 15],
        tickmode="array", tickvals=y_ticks, ticktext=y_tick_text,
        anchor=xa,
    )

    annotations.append(dict(
        text="<b>" + titles[i] + "</b>", x=fx((left + right) / 2), y=fy(14),
        xref="paper", yref="paper", xanchor="center", yanchor="middle", showarrow=False,
        font=dict(family=SERIF, size=17, color="#1a1a1a"),
    ))
    annotations.append(dict(
        text=tags[i], x=fx(left + 9), y=fy(47),
        xref="paper", yref="paper", xanchor="left", yanchor="middle", showarrow=False,
        font=dict(family=SERIF, size=25, color="#111111"),
    ))
    annotations.append(dict(
        text=x_title, x=fx((left + right) / 2), y=fy(397),
        xref="paper", yref="paper", xanchor="center", yanchor="middle", showarrow=False,
        font=dict(family=SERIF, size=17, color="#3c3c3c"),
    ))
    annotations.append(dict(
        text=y_title, x=fx(left - 38), y=fy((TOP + BOTTOM) / 2), textangle=-90,
        xref="paper", yref="paper", xanchor="center", yanchor="middle", showarrow=False,
        font=dict(family=SERIF, size=17, color="#3c3c3c"),
    ))

# spiral spacing (d) and noise width (sigma) markers on panel (b)
for x0, x1 in [(-9.38, -6.06), (-4.37, -1.92)]:
    annotations.append(dict(
        x=x1, y=0.55, ax=x0, ay=0.55, xref="x2", yref="y2", axref="x2", ayref="y2",
        text="", showarrow=True, arrowside="end+start", arrowhead=2, arrowsize=0.75,
        arrowwidth=3, arrowcolor="black",
    ))
annotations.append(dict(
    text="<b><i>d</i></b>", x=-7.7, y=2.3, xref="x2", yref="y2", showarrow=False,
    xanchor="center", yanchor="middle", font=dict(family=SERIF, size=22, color="black"),
))
annotations.append(dict(
    text="<b>σ</b>", x=-3.3, y=2.2, xref="x2", yref="y2", showarrow=False,
    xanchor="center", yanchor="middle", font=dict(family=SERIF, size=22, color="black"),
))

fig.update_layout(
    width=W, height=H, margin=dict(l=0, r=0, t=0, b=0),
    paper_bgcolor="white", plot_bgcolor="white", showlegend=False,
    annotations=annotations, **layout,
)

fig.write_html("out.html", config={"displayModeBar": False})
